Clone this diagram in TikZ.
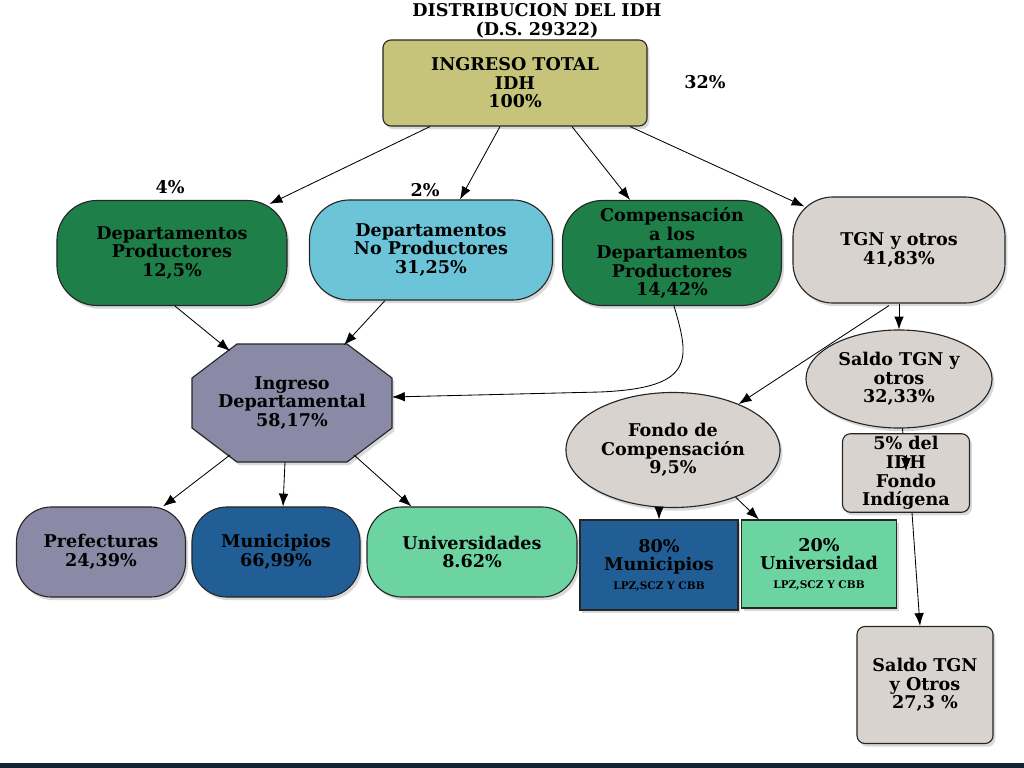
\documentclass[tikz,border=0pt]{standalone}
\usepackage{fontspec}
\setmainfont{DejaVu Serif}
\usetikzlibrary{positioning,calc,shapes.geometric,arrows.meta,shadows}

\definecolor{oliv}{RGB}{198,196,122}
\definecolor{dkgruen}{RGB}{30,128,72}
\definecolor{hellblau}{RGB}{108,196,216}
\definecolor{hellgrau}{RGB}{216,211,206}
\definecolor{schiefer}{RGB}{138,138,166}
\definecolor{dkblau}{RGB}{34,94,150}
\definecolor{mint}{RGB}{108,212,160}
\definecolor{balken}{RGB}{18,35,52}

\newcommand{\kleinschrift}{\bfseries\fontsize{7.5}{9}\selectfont}

\tikzset{
    schrift/.style={font=\bfseries\fontsize{12.5}{13.2}\selectfont,align=center},
    base/.style={schrift,draw=black!85,thick,inner sep=2pt,
        drop shadow={opacity=0.3,shadow xshift=0.6mm,shadow yshift=-0.8mm}},
    kasten/.style={base,rectangle,rounded corners=0.2cm},
    pill/.style={base,rectangle,rounded corners=#1},
    eckig/.style={base,rectangle},
    oval/.style={base,ellipse,fill=hellgrau},
    pfeil/.style={-{Latex[length=3.2mm,width=2.4mm]},line width=0.6pt}
}

\begin{document}
\begin{tikzpicture}[x=0.025cm,y=-0.025cm]
    \useasboundingbox (0,0) rectangle (1024,768);

    % title
    \node[schrift] (title) at (537,21) {DISTRIBUCION DEL IDH\\(D.S. 29322)};

    % total income
    \node[kasten,fill=oliv,minimum width=6.6cm,minimum height=2.15cm] (ingtot) at (515,83) {INGRESO TOTAL\\IDH\\100\%};
    \node[schrift] (p32) at (705,82) {32\%};

    % second row
    \node[pill=1cm,fill=dkgruen,minimum width=5.75cm,minimum height=2.625cm] (depprod) at (172,253) {Departamentos\\Productores\\12,5\%};
    \node[schrift] (p4) at (170,187) {4\%};
    \node[pill=1cm,fill=hellblau,minimum width=6.075cm,minimum height=2.5cm] (depnoprod) at (431,250) {Departamentos\\No Productores\\31,25\%};
    \node[schrift] (p2) at (425,190) {2\%};
    \node[pill=1cm,fill=dkgruen,minimum width=5.475cm,minimum height=2.625cm] (comp) at (672,253) {Compensación\\a los\\Departamentos\\Productores\\14,42\%};
    \node[pill=1cm,fill=hellgrau,minimum width=5.3cm,minimum height=2.65cm] (tgn) at (899,250) {TGN y otros\\41,83\%};

    % departmental income (octagon)
    \coordinate (ic) at (292,403);
    \filldraw[base,fill=schiefer] ($(ic)+(-55,-59)$) -- ($(ic)+(55,-59)$) -- ($(ic)+(100,-25)$) -- ($(ic)+(100,25)$)
        -- ($(ic)+(55,59)$) -- ($(ic)+(-55,59)$) -- ($(ic)+(-100,25)$) -- ($(ic)+(-100,-25)$) -- cycle;
    \node[schrift] (ingdep) at (ic) {Ingreso\\Departamental\\58,17\%};

    % right branch
    \node[oval,minimum width=4.65cm,minimum height=2.45cm] (saldo) at (899,379) {Saldo TGN y\\otros\\32,33\%};
    \node[oval,minimum width=5.35cm,minimum height=2.875cm] (fondo) at (673,450) {Fondo de\\Compensación\\9,5\%};
    \coordinate (idhmark) at (906,471);
    \draw[pfeil] (saldo.-86) -- (idhmark);
    \node[kasten,fill=hellgrau,minimum width=3.175cm,minimum height=1.925cm] (fondoind) at (906,473) {5\% del\\IDH\\Fondo\\Indígena};
    \draw[pfeil] ($(idhmark)+(0,-16)$) -- (idhmark);
    \node[kasten,fill=hellgrau,minimum width=3.4cm,minimum height=2.925cm] (saldofin) at (925,685) {Saldo TGN\\y Otros\\27,3 \%};

    % bottom row
    \node[pill=0.875cm,fill=schiefer,minimum width=4.225cm,minimum height=2.25cm] (pref) at (101,552) {Prefecturas\\24,39\%};
    \node[pill=0.875cm,fill=dkblau,minimum width=4.2cm,minimum height=2.25cm] (muni) at (276,552) {Municipios\\66,99\%};
    \node[pill=0.875cm,fill=mint,minimum width=5.25cm,minimum height=2.25cm] (univ) at (472,552) {Universidades\\8.62\%};
    \node[eckig,fill=dkblau,minimum width=3.95cm,minimum height=2.25cm] (muni80) at (659,565) {80\%\\Municipios\\{\kleinschrift LPZ,SCZ Y CBB}};
    \node[eckig,fill=mint,minimum width=3.875cm,minimum height=2.2cm] (univ20) at (819,564) {20\%\\Universidad\\{\kleinschrift LPZ,SCZ Y CBB}};

    % arrows from total income
    \draw[pfeil] ($(ingtot.south)+(-85,0)$) -- ($(depprod.north east)+(-18,4)$);
    \draw[pfeil] ($(ingtot.south)+(-15,0)$) -- ($(depnoprod.north)+(29,0)$);
    \draw[pfeil] ($(ingtot.south)+(57,0)$) -- ($(comp.north)+(-42,0)$);
    \draw[pfeil] ($(ingtot.south)+(115,0)$) -- ($(tgn.north west)+(12,10)$);

    % into departmental income
    \draw[pfeil] ($(depprod.south)+(3,0)$) -- ($(ic)+(-62,-52)$);
    \draw[pfeil] ($(depnoprod.south)+(-46,0)$) -- ($(ic)+(52,-58)$);
    \draw[pfeil] ($(comp.south)+(2,0)$) .. controls (690,360) and (695,388) .. (600,392) -- ($(ic)+(100,-6)$);

    % out of departmental income
    \draw[pfeil] ($(ic)+(-62,52)$) -- ($(pref.north east)+(-23,0)$);
    \draw[pfeil] ($(ic)+(-7,59)$) -- ($(muni.north)+(7,0)$);
    \draw[pfeil] ($(ic)+(62,52)$) -- ($(univ.north west)+(45,0)$);

    % right branch
    \draw[pfeil] (tgn.south) -- (saldo.north);
    \draw[pfeil] ($(tgn.south)+(-10,2)$) -- (fondo.35);
    \draw[pfeil] (muni80.north |- fondo.south) -- (muni80.north);
    \draw[pfeil] (fondo.-37) -- ($(univ20.north west)+(18,0)$);
    \draw[pfeil] ($(fondoind.south)+(6,0)$) -- ($(saldofin.north)+(-5,0)$);

    % bottom bar
    \fill[balken] (0,763) rectangle (1024,768);
\end{tikzpicture}
\end{document}
